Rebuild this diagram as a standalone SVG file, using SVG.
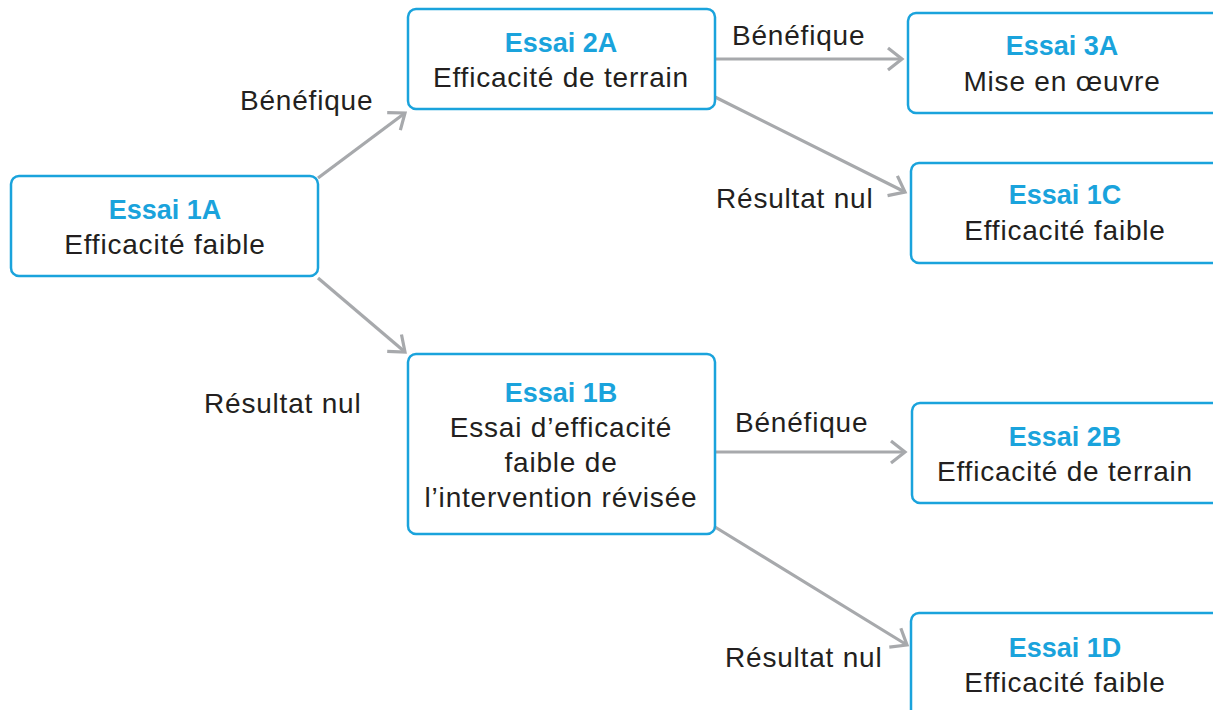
<svg xmlns="http://www.w3.org/2000/svg" width="1213" height="710" viewBox="0 0 1213 710">
<style>
.box{fill:#fff;stroke:#1aa3dc;stroke-width:2.5}
.t{font-family:"Liberation Sans",Arial,sans-serif;font-weight:bold;font-size:27px;fill:#1aa3dc;text-anchor:middle}
.s{font-family:"Liberation Sans",Arial,sans-serif;font-size:28px;letter-spacing:0.8px;fill:#231f20;text-anchor:middle}
.lbl{font-family:"Liberation Sans",Arial,sans-serif;font-size:28px;letter-spacing:0.8px;fill:#231f20}
.c{stroke:#a7a9ac;stroke-width:3.2;fill:none;marker-end:url(#arr)}
</style>
<defs>
<marker id="arr" markerUnits="userSpaceOnUse" viewBox="-18 -14 20 28" refX="0" refY="0" markerWidth="20" markerHeight="28" orient="auto" overflow="visible">
<path d="M-14,-11 L0,0 L-14,11" fill="none" stroke="#a7a9ac" stroke-width="3.2"/>
</marker>
</defs>
<g id="connectors">
<line class="c" x1="318" y1="178" x2="405" y2="113"/>
<line class="c" x1="318" y1="278" x2="405" y2="352"/>
<line class="c" x1="715" y1="59" x2="902" y2="59"/>
<line class="c" x1="715" y1="97" x2="905" y2="192"/>
<line class="c" x1="715" y1="452" x2="905" y2="452"/>
<line class="c" x1="715" y1="527" x2="907" y2="645"/>
</g>
<g id="labels">
<text class="lbl" x="240" y="110">Bénéfique</text>
<text class="lbl" x="204" y="413">Résultat nul</text>
<text class="lbl" x="732" y="45">Bénéfique</text>
<text class="lbl" x="716" y="208">Résultat nul</text>
<text class="lbl" x="735" y="432">Bénéfique</text>
<text class="lbl" x="725" y="667">Résultat nul</text>
</g>
<g id="n1A">
<rect class="box" x="11" y="176" width="307" height="100" rx="8"/>
<text class="t" x="165" y="219">Essai 1A</text>
<text class="s" x="165" y="254">Efficacité faible</text>
</g>
<g id="n2A">
<rect class="box" x="408" y="9" width="307" height="100" rx="8"/>
<text class="t" x="561" y="52">Essai 2A</text>
<text class="s" x="561" y="87">Efficacité de terrain</text>
</g>
<g id="n3A">
<rect class="box" x="908" y="13" width="320" height="100" rx="8"/>
<text class="t" x="1062" y="55">Essai 3A</text>
<text class="s" x="1062" y="91">Mise en œuvre</text>
</g>
<g id="n1C">
<rect class="box" x="911" y="163" width="320" height="100" rx="8"/>
<text class="t" x="1065" y="204">Essai 1C</text>
<text class="s" x="1065" y="240">Efficacité faible</text>
</g>
<g id="n1B">
<rect class="box" x="408" y="354" width="307" height="180" rx="8"/>
<text class="t" x="561" y="402">Essai 1B</text>
<text class="s" x="561" y="437">Essai d’efficacité</text>
<text class="s" x="561" y="472">faible de</text>
<text class="s" x="561" y="507">l’intervention révisée</text>
</g>
<g id="n2B">
<rect class="box" x="912" y="403" width="320" height="100" rx="8"/>
<text class="t" x="1065" y="446">Essai 2B</text>
<text class="s" x="1065" y="481">Efficacité de terrain</text>
</g>
<g id="n1D">
<rect class="box" x="911" y="613" width="320" height="110" rx="8"/>
<text class="t" x="1065" y="657">Essai 1D</text>
<text class="s" x="1065" y="692">Efficacité faible</text>
</g>
</svg>
